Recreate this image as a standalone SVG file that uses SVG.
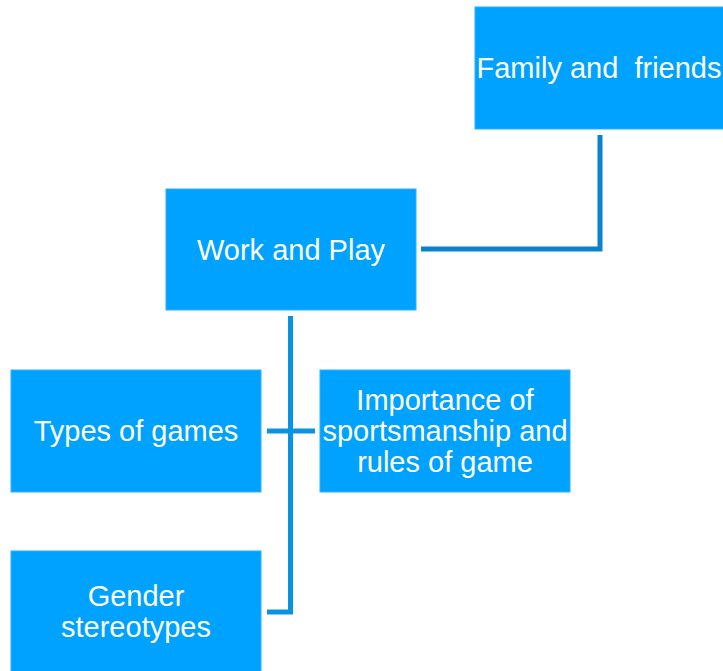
<svg xmlns="http://www.w3.org/2000/svg" width="723" height="671" viewBox="0 0 723 671">
<style>
.box{fill:#00A2FF;stroke:#2FB0FF;stroke-width:1}
.t{font-family:"Liberation Sans",Arial,sans-serif;font-size:29px;fill:#FFFFFF;text-anchor:middle;white-space:pre}
.c{fill:none;stroke-width:5;stroke-linejoin:miter}
</style>
<rect width="723" height="671" fill="#FFFFFF"/>
<g id="connectors">
<path class="c" stroke="#0A83CC" d="M600,135 V249 H421"/>
<path class="c" stroke="#0A93E3" d="M290.5,316 V612 H267"/>
<path class="c" stroke="#0A93E3" d="M267,431 H315"/>
</g>
<g id="family">
<rect class="box" x="475" y="7" width="249" height="122"/>
<text class="t" x="599" y="78" xml:space="preserve">Family and  friends</text>
</g>
<g id="work">
<rect class="box" x="166" y="189" width="250" height="121"/>
<text class="t" x="291" y="260">Work and Play</text>
</g>
<g id="types">
<rect class="box" x="11" y="370" width="250" height="122"/>
<text class="t" x="136" y="441">Types of games</text>
</g>
<g id="importance">
<rect class="box" x="320" y="370" width="250" height="122"/>
<text class="t" x="445" y="410">Importance of</text>
<text class="t" x="445" y="441">sportsmanship and</text>
<text class="t" x="445" y="472">rules of game</text>
</g>
<g id="gender">
<rect class="box" x="11" y="551" width="250" height="121"/>
<text class="t" x="136" y="606">Gender</text>
<text class="t" x="136" y="637">stereotypes</text>
</g>
</svg>
